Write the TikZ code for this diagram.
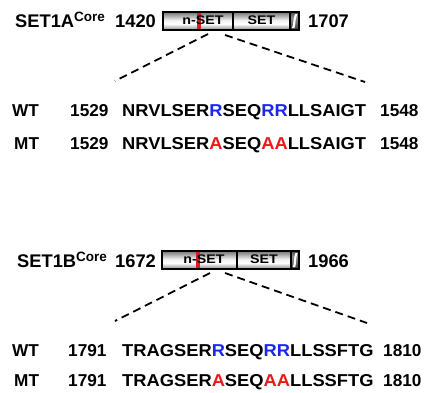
\documentclass[tikz,border=0pt]{standalone}
\usepackage{fontspec}
\setmainfont{Liberation Sans}
\usepackage{graphicx}
\definecolor{seqblue}{RGB}{25,40,235}
\definecolor{seqred}{RGB}{235,25,25}
\definecolor{markred}{RGB}{215,30,35}
\pgfdeclareverticalshading{barshade}{100bp}{color(0bp)=(black!60); color(25bp)=(black!60); color(31bp)=(black!30); color(42bp)=(white); color(52bp)=(black!5); color(66bp)=(black!35); color(75bp)=(black!55); color(100bp)=(black!55)}
\pgfdeclareverticalshading{endshade}{100bp}{color(0bp)=(black!80); color(25bp)=(black!80); color(45bp)=(black!55); color(60bp)=(black!45); color(75bp)=(black!70); color(100bp)=(black!70)}
\newcommand{\B}[1]{\textcolor{seqblue}{#1}}
\newcommand{\Rd}[1]{\textcolor{seqred}{#1}}
\newcommand{\Sq}[1]{\scalebox{1.065}[1]{#1}}
\newcommand{\Cr}{\raisebox{5.5pt}{\fontsize{13.5}{14}\selectfont Core}}
\tikzset{
 lbl/.style={anchor=base west, inner sep=0pt, font=\fontsize{17.2}{20}\selectfont\bfseries},
 biglbl/.style={anchor=base west, inner sep=0pt, font=\fontsize{18.3}{20}\selectfont\bfseries},
 seg/.style={draw=black, line width=1.1pt, shading=barshade},
 endseg/.style={draw=black, line width=1.1pt, shading=endshade},
 segtxt/.style={anchor=base, inner sep=0pt, font=\fontsize{12.5}{14}\selectfont\bfseries},
 zoomline/.style={dash pattern=on 8pt off 5pt, line width=1.8pt},
 redmark/.style={fill=markred}
}
\begin{document}
\begin{tikzpicture}[x=1pt,y=-1pt]
\useasboundingbox (0,0) rectangle (428,392);
% ---------- block A ----------
\node[biglbl] (labA) at (15,27) {SET1A\Cr};
\node[biglbl] (startA) at (115,27) {1420};
\path[seg] (163,12) rectangle (233,30);
\path[seg] (233,12) rectangle (290,30);
\path[endseg] (290,12) rectangle (299,30);
\fill[white] (292,28) -- (294.5,28) .. controls (296,24) and (294.5,20) .. (297.5,14) -- (295,14) .. controls (292.5,20) and (294,24) .. cycle;
\fill[redmark] (196.5,12.6) rectangle (200.5,29.4);
\node[segtxt] (nsetA) at (203,24.7) {\scalebox{1.14}[1]{n-SET}};
\node[segtxt] (setA) at (261.5,24.7) {\scalebox{1.14}[1]{SET}};
\node[biglbl] (endA) at (308,27) {1707};
\coordinate (aL1) at (208,34);
\coordinate (aL2) at (115,81);
\coordinate (aR1) at (225,35);
\coordinate (aR2) at (365,82);
\draw[zoomline] (aL1) -- (aL2);
\draw[zoomline] (aR1) -- (aR2);
\node[lbl] (wtA) at (12,116.7) {WT};
\node[lbl] (wtAs) at (70,116.7) {1529};
\node[lbl] (wtAq) at (122,116.7) {\Sq{NRVLSER\B{R}SEQ\B{RR}LLSAIGT}};
\node[lbl] (wtAe) at (380,116.7) {1548};
\node[lbl] (mtA) at (14,149.2) {MT};
\node[lbl] (mtAs) at (70,149.2) {1529};
\node[lbl] (mtAq) at (122,149.2) {\Sq{NRVLSER\Rd{A}SEQ\Rd{AA}LLSAIGT}};
\node[lbl] (mtAe) at (380,149.2) {1548};
% ---------- block B ----------
\node[biglbl] (labB) at (17,267) {SET1B\Cr};
\node[biglbl] (startB) at (115,267) {1672};
\path[seg] (162,251) rectangle (237,269);
\path[seg] (237,251) rectangle (291,269);
\path[endseg] (291,251) rectangle (299,269);
\fill[white] (292.8,267) -- (295.2,267) .. controls (296.6,263) and (295.2,259) .. (297.6,253) -- (295.4,253) .. controls (293.2,259) and (294.6,263) .. cycle;
\fill[redmark] (195.5,251.6) rectangle (199.5,268.4);
\node[segtxt] (nsetB) at (204,263.7) {\scalebox{1.14}[1]{n-SET}};
\node[segtxt] (setB) at (264,263.7) {\scalebox{1.14}[1]{SET}};
\node[biglbl] (endB) at (308,267) {1966};
\coordinate (bL1) at (210,273);
\coordinate (bL2) at (115,321);
\coordinate (bR1) at (225,273);
\coordinate (bR2) at (367,323);
\draw[zoomline] (bL1) -- (bL2);
\draw[zoomline] (bR1) -- (bR2);
\node[lbl] (wtB) at (12,356) {WT};
\node[lbl] (wtBs) at (68,356) {1791};
\node[lbl] (wtBq) at (122,356) {\Sq{TRAGSER\B{R}SEQ\B{RR}LLSSFTG}};
\node[lbl] (wtBe) at (383,356) {1810};
\node[lbl] (mtB) at (14,386.7) {MT};
\node[lbl] (mtBs) at (68,386.7) {1791};
\node[lbl] (mtBq) at (122,386.7) {\Sq{TRAGSER\Rd{A}SEQ\Rd{AA}LLSSFTG}};
\node[lbl] (mtBe) at (383,386.7) {1810};
\end{tikzpicture}
\end{document}
